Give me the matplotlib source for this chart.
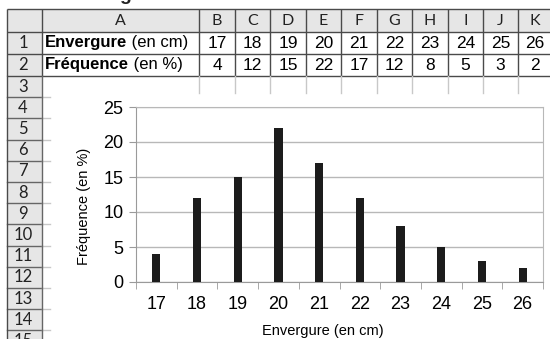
import matplotlib
matplotlib.use("Agg")
import matplotlib.pyplot as plt
from matplotlib.patches import Rectangle

# Data
envergure = [17, 18, 19, 20, 21, 22, 23, 24, 25, 26]
frequence = [4, 12, 15, 22, 17, 12, 8, 5, 3, 2]
col_letters = ["A", "B", "C", "D", "E", "F", "G", "H", "I", "J", "K"]
row_numbers = list(range(1, 16))
y_ticks = [0, 5, 10, 15, 20, 25]

W, H = 550, 339
fig = plt.figure(figsize=(W / 100, H / 100), dpi=100)
fig.patch.set_facecolor("white")

SANS = "Liberation Sans"
HEAD = "Lato"

# Sheet layer in pixel coordinates
bg = fig.add_axes([0, 0, 1, 1])
bg.set_xlim(0, W)
bg.set_ylim(H, 0)
bg.axis("off")

left_edge, rowhdr_right = 7, 42
col_edges = [42, 199, 235, 270, 306, 341, 377, 412, 448, 483, 518, 553]
top_edge, hdr_bottom = 9, 32
row_h = 21.2
row_edges = [32, 54, 76] + [76 + row_h * k for k in range(1, 13)]

HDR_BG = "#e6e6e6"
DARK = "#4a4a4a"
LIGHT = "#c8c8c8"

# tail of the heading line above the sheet
bg.text(125, 0.5, "g", ha="center", va="baseline", fontsize=14,
        family=SANS, fontweight="bold", color="#222222", clip_on=False)

bg.add_patch(Rectangle((left_edge, top_edge), W - left_edge, hdr_bottom - top_edge,
                       facecolor=HDR_BG, edgecolor="none"))
bg.add_patch(Rectangle((left_edge, hdr_bottom), rowhdr_right - left_edge, H - hdr_bottom,
                       facecolor=HDR_BG, edgecolor="none"))

# header row + table rows 1-2
for y in [top_edge, hdr_bottom, 54, 76]:
    bg.plot([left_edge, W], [y, y], color=DARK, lw=1.0, solid_capstyle="butt")
for x in [left_edge] + col_edges:
    bg.plot([x, x], [top_edge, 76], color=DARK, lw=1.0, solid_capstyle="butt")
# row 3 cell borders above the chart
for x in col_edges[1:]:
    bg.plot([x, x], [76, 93], color=LIGHT, lw=1.0)
# row header boundaries
for y in row_edges[3:]:
    bg.plot([left_edge, rowhdr_right], [y, y], color="#666666", lw=1.0)
    bg.plot([rowhdr_right, 50], [y, y], color=LIGHT, lw=1.0)
bg.plot([left_edge, left_edge], [76, H], color=DARK, lw=1.0)
bg.plot([rowhdr_right, rowhdr_right], [76, H], color="#666666", lw=1.0)

# column letters
for i, letter in enumerate(col_letters):
    cx = (col_edges[i] + col_edges[i + 1]) / 2
    if i == len(col_letters) - 1:
        cx = 535
    bg.text(cx, 21, letter, ha="center", va="center", fontsize=11.5,
            family=HEAD, color="#222222")
# row numbers
for k, n in enumerate(row_numbers):
    cy = (row_edges[k] + row_edges[k + 1]) / 2 if k + 1 < len(row_edges) else row_edges[k] + row_h / 2
    bg.text(23, cy, str(n), ha="center", va="center", fontsize=12,
            family=HEAD, color="#222222")

# table labels: bold word followed by regular unit
for cy, word, unit in [(43, "Envergure", " (en cm)"), (65, "Fréquence", " (en %)")]:
    t = bg.text(45, cy, word, ha="left", va="center", fontsize=12,
                family=SANS, fontweight="bold", color="black")
    bg.annotate(unit, xy=(1, 0.5), xycoords=t, ha="left", va="center",
                fontsize=12, family=SANS, color="black")

for i, (e, f) in enumerate(zip(envergure, frequence)):
    cx = (col_edges[i + 1] + col_edges[i + 2]) / 2
    if i == len(envergure) - 1:
        cx = 535
    bg.text(cx, 43, str(e), ha="center", va="center", fontsize=12.5, family=SANS)
    bg.text(cx, 65, str(f), ha="center", va="center", fontsize=12.5, family=SANS)

# chart object background
bg.add_patch(Rectangle((50, 93), W - 50, H - 93, facecolor="white", edgecolor="none"))

# Chart
px_l, px_r, px_t, px_b = 136, 543, 107, 282
ax = fig.add_axes([px_l / W, 1 - px_b / H, (px_r - px_l) / W, (px_b - px_t) / H])
x = list(range(len(envergure)))
ax.bar(x, frequence, width=0.2, color="#1c1c1c", zorder=3)
ax.set_xlim(-0.5, len(envergure) - 0.5)
ax.set_ylim(0, 25)
ax.set_yticks(y_ticks)
ax.set_xticks(x)
ax.set_xticklabels([str(e) for e in envergure])
ax.set_xticks([i - 0.5 for i in range(len(envergure) + 1)], minor=True)
ax.yaxis.grid(True, color="#b8b8b8", lw=1.0, zorder=0)
ax.set_axisbelow(True)
for side in ["top", "right"]:
    ax.spines[side].set_color("#b8b8b8")
for side in ["left", "bottom"]:
    ax.spines[side].set_color("#9a9a9a")
ax.tick_params(axis="y", length=5, color="#9a9a9a", pad=4, labelsize=13)
ax.tick_params(axis="x", which="major", length=0, pad=10, labelsize=13)
ax.tick_params(axis="x", which="minor", length=5, color="#9a9a9a")
for lab in ax.get_xticklabels() + ax.get_yticklabels():
    lab.set_family(SANS)

fig.text(84 / W, 1 - 206 / H, "Fréquence (en %)", rotation=90, ha="center",
         va="center", fontsize=10.5, family=SANS)
fig.text(323 / W, 1 - 331 / H, "Envergure (en cm)", ha="center", va="center",
         fontsize=10.5, family=SANS)

fig.savefig("out.png", dpi=100)
